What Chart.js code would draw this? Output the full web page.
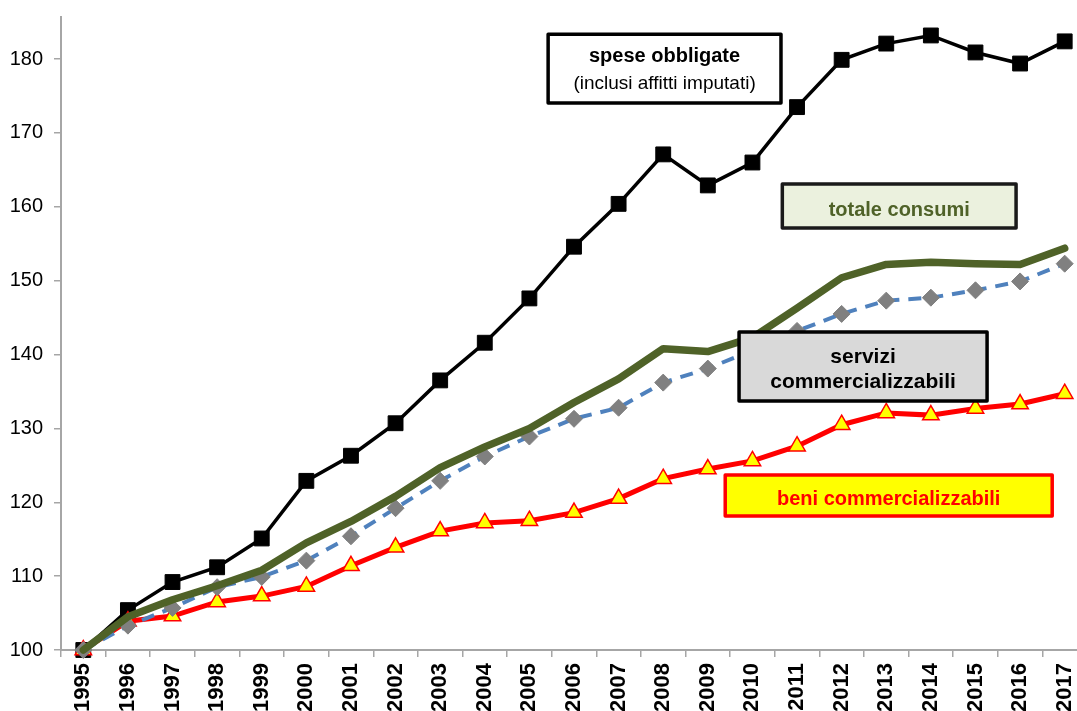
<!DOCTYPE html>
<html>
<head>
<meta charset="utf-8">
<script src="https://cdn.jsdelivr.net/npm/chart.js@4.4.1/dist/chart.umd.min.js"></script>
<style>
  html, body { margin: 0; padding: 0; background: #fff; overflow: hidden; width: 1077px; height: 711px; }
  canvas { display: block; }
</style>
</head>
<body>
<canvas id="c" width="1100" height="740"></canvas>
<script>
const years = ['1995','1996','1997','1998','1999','2000','2001','2002','2003','2004','2005','2006','2007','2008','2009','2010','2011','2012','2013','2014','2015','2016','2017'];
const speseObbligate = [100, 105.4, 109.2, 111.2, 115.1, 122.9, 126.3, 130.7, 136.5, 141.6, 147.6, 154.6, 160.4, 167.1, 162.9, 166.0, 173.5, 179.9, 182.1, 183.2, 180.9, 179.4, 182.4];
const totaleConsumi = [100, 104.5, 106.8, 108.7, 110.8, 114.5, 117.4, 120.8, 124.7, 127.5, 130.0, 133.5, 136.7, 140.8, 140.4, 142.3, 146.3, 150.4, 152.2, 152.5, 152.3, 152.2, 154.4];
const serviziComm = [100, 103.3, 105.7, 108.5, 109.9, 112.1, 115.4, 119.2, 122.9, 126.2, 128.9, 131.3, 132.8, 136.2, 138.1, 140.6, 143.2, 145.5, 147.3, 147.7, 148.7, 149.9, 152.3];
const beniComm = [100, 103.9, 104.6, 106.5, 107.3, 108.6, 111.4, 113.9, 116.1, 117.2, 117.5, 118.6, 120.5, 123.2, 124.5, 125.6, 127.6, 130.5, 132.1, 131.8, 132.7, 133.3, 134.7];
const yTicks = [100, 110, 120, 130, 140, 150, 160, 170, 180];

const FONT = '"Liberation Sans", Arial, sans-serif';

// Label boxes: corners in data units (category index, value); text baselines as offsets from box top
const labelBoxes = [
  { x1: 10.42, x2: 15.64, y1: 183.38, y2: 174.04, fill: '#FFFFFF', stroke: '#000000',
    lines: [ { text: 'spese obbligate', bold: true, size: 20, color: '#000', off: 28 },
             { text: '(inclusi affitti imputati)', bold: false, size: 19, color: '#000', off: 55 } ] },
  { x1: 15.67, x2: 20.91, y1: 163.08, y2: 157.12, fill: '#EBF1DE', stroke: '#1A1A1A',
    lines: [ { text: 'totale consumi', bold: true, size: 20, color: '#4F6228', off: 32 } ] },
  { x1: 14.70, x2: 20.26, y1: 143.05, y2: 133.71, fill: '#D9D9D9', stroke: '#000000',
    lines: [ { text: 'servizi', bold: true, size: 21, color: '#000', off: 31 },
             { text: 'commercializzabili', bold: true, size: 21, color: '#000', off: 56 } ] },
  { x1: 14.39, x2: 21.72, y1: 123.69, y2: 118.14, fill: '#FFFF00', stroke: '#FF0000',
    lines: [ { text: 'beni commercializzabili', bold: true, size: 20, color: '#FF0000', off: 30 } ] }
];

const boxPlugin = {
  id: 'labelBoxes',
  afterDatasetsDraw(chart) {
    const ctx = chart.ctx;
    const xs = chart.scales.x, ys = chart.scales.y;
    ctx.save();
    labelBoxes.forEach(b => {
      const l = xs.getPixelForValue(b.x1), r = xs.getPixelForValue(b.x2);
      const t = ys.getPixelForValue(b.y1), bt = ys.getPixelForValue(b.y2);
      ctx.fillStyle = b.fill;
      ctx.fillRect(l, t, r - l, bt - t);
      ctx.lineWidth = 3.5;
      ctx.strokeStyle = b.stroke;
      ctx.lineJoin = 'round';
      ctx.strokeRect(l, t, r - l, bt - t);
      ctx.textAlign = 'center';
      ctx.textBaseline = 'alphabetic';
      b.lines.forEach(ln => {
        ctx.font = (ln.bold ? 'bold ' : '') + ln.size + 'px ' + FONT;
        ctx.fillStyle = ln.color;
        ctx.fillText(ln.text, (l + r) / 2, t + ln.off);
      });
    });
    ctx.restore();
  }
};

new Chart(document.getElementById('c'), {
  type: 'line',
  data: {
    labels: years,
    datasets: [
      { label: 'totale consumi', data: totaleConsumi, borderColor: '#4F6228', borderWidth: 7.5,
        pointRadius: 0, tension: 0, order: 1, clip: false, borderCapStyle: 'round', borderJoinStyle: 'round' },
      { label: 'servizi commercializzabili', data: serviziComm, borderColor: '#4F81BD', borderWidth: 4,
        borderDash: [13, 9], pointStyle: 'rectRot', pointRadius: 8.5, pointBackgroundColor: '#808080',
        pointBorderColor: '#808080', pointBorderWidth: 1, tension: 0, order: 2, clip: false },
      { label: 'beni commercializzabili', data: beniComm, borderColor: '#FF0000', borderWidth: 5,
        pointStyle: 'triangle', pointRadius: 9.5, pointBackgroundColor: '#FFFF00',
        pointBorderColor: '#FF0000', pointBorderWidth: 1.5, tension: 0, order: 3, clip: false },
      { label: 'spese obbligate', data: speseObbligate, borderColor: '#000000', borderWidth: 3.5,
        pointStyle: 'rect', pointRadius: 10.5, pointBackgroundColor: '#000000',
        pointBorderColor: '#000000', pointBorderWidth: 1, tension: 0, order: 4, clip: false }
    ]
  },
  options: {
    responsive: false,
    devicePixelRatio: 1,
    animation: false,
    layout: { padding: { top: 17, right: 13, left: 0, bottom: 0 } },
    plugins: { legend: { display: false }, tooltip: { enabled: false } },
    scales: {
      x: {
        type: 'category',
        offset: true,
        afterFit: s => { s.height = 90; s.paddingLeft = 0; s.paddingRight = 0; },
        grid: { offset: true, drawOnChartArea: false, drawTicks: true, tickLength: 7, color: '#A6A6A6', lineWidth: 1.5 },
        border: { display: true, color: '#A6A6A6', width: 2 },
        ticks: { autoSkip: false, minRotation: 90, maxRotation: 90, padding: 6, color: '#000',
          font: { family: FONT, size: 22, weight: 'bold' } }
      },
      y: {
        min: 100, max: 185.7,
        afterFit: s => { s.width = 61; s.paddingTop = 0; s.paddingBottom = 0; },
        afterBuildTicks: s => { s.ticks = yTicks.map(v => ({ value: v })); },
        grid: { drawOnChartArea: false, drawTicks: true, tickLength: 7, color: '#A6A6A6', lineWidth: 1.5 },
        border: { display: true, color: '#A6A6A6', width: 2 },
        ticks: { padding: 11, color: '#000', font: { family: FONT, size: 20 }, callback: v => String(v) }
      }
    }
  },
  plugins: [boxPlugin]
});
</script>
</body>
</html>
